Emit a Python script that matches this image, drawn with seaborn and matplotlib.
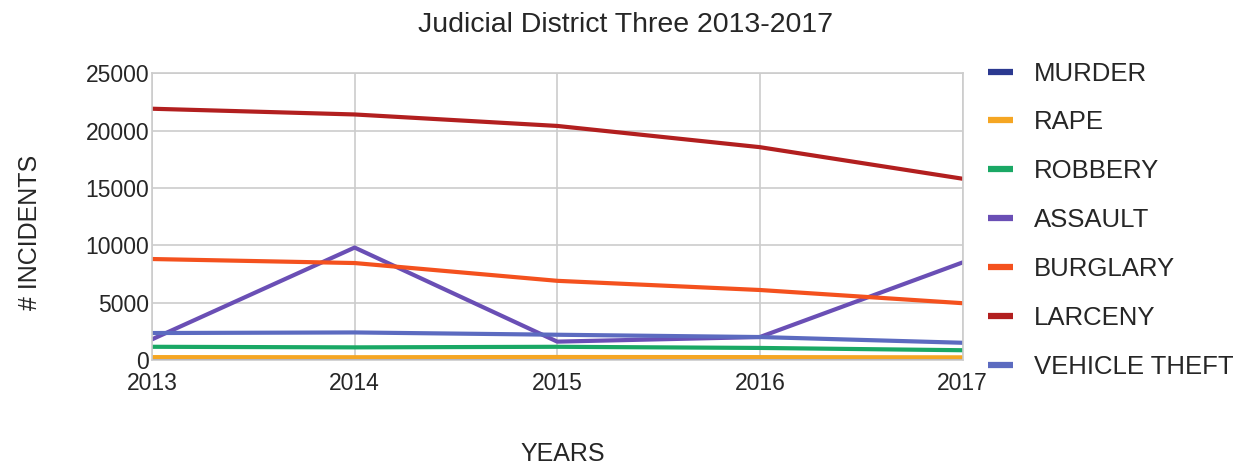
import pandas as pd
import matplotlib.pyplot as plt
import seaborn as sns

sns.set_style("whitegrid")
plt.rcParams["font.family"] = ["Liberation Sans", "DejaVu Sans"]

years = [2013, 2014, 2015, 2016, 2017]
murder = [60, 55, 60, 55, 50]
rape = [250, 240, 260, 250, 230]
robbery = [1150, 1100, 1150, 1050, 850]
assault = [1800, 9800, 1600, 2000, 8500]
burglary = [8800, 8450, 6900, 6100, 4950]
larceny = [21900, 21400, 20400, 18550, 15800]
vehicle_theft = [2350, 2400, 2200, 2000, 1500]

crimes = ["MURDER", "RAPE", "ROBBERY", "ASSAULT", "BURGLARY", "LARCENY", "VEHICLE THEFT"]
series = [murder, rape, robbery, assault, burglary, larceny, vehicle_theft]
colors = ["#2b3990", "#f5a623", "#1aa865", "#6a4fb5", "#f4511e", "#b21f1f", "#5c6bc0"]

rows = []
for name, vals in zip(crimes, series):
    for y, v in zip(years, vals):
        rows.append({"year": y, "crime": name, "incidents": v})
df = pd.DataFrame(rows)

fig = plt.figure(figsize=(12.5, 4.66), dpi=100)
ax = fig.add_axes([0.1216, 0.2275, 0.6484, 0.6155])

sns.lineplot(data=df, x="year", y="incidents", hue="crime", hue_order=crimes,
             palette=dict(zip(crimes, colors)), linewidth=3, ax=ax, legend=False)

ax.set_xlim(2013, 2017)
ax.set_ylim(0, 25000)
ax.set_xticks(years)
ax.set_yticks(range(0, 25001, 5000))
ax.grid(True, color="#cccccc", linewidth=1.2)
for s in ax.spines.values():
    s.set_color("#cccccc")
    s.set_linewidth(1.2)
ax.tick_params(labelsize=16.5, length=0)
ax.tick_params(axis="x", pad=9)
ax.tick_params(axis="y", pad=2)
ax.set_xlabel("YEARS", fontsize=18)
ax.set_ylabel("# INCIDENTS", fontsize=18)
ax.xaxis.set_label_coords(0.507, -0.285)
ax.yaxis.set_label_coords(-0.136, 0.445)
fig.suptitle("Judicial District Three 2013-2017", fontsize=20.5, y=0.975)

handles = [plt.Line2D([], [], color=c, linewidth=4.5, solid_capstyle="butt") for c in colors]
fig.legend(handles, crimes, loc="upper left", bbox_to_anchor=(0.79, 0.868),
           frameon=False, fontsize=18.5, handlelength=1.0, handletextpad=0.8,
           labelspacing=0.97, borderpad=0, borderaxespad=0)

plt.savefig("out.png", dpi=100)
